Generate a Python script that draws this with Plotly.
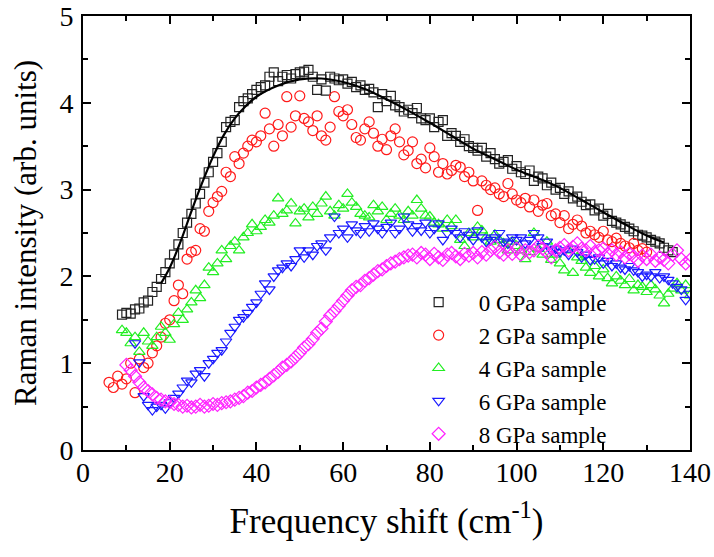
import plotly.graph_objects as go

# ---------------- data ----------------
x0 = list(range(9, 137))
y0 = [1.56, 1.58, 1.57, 1.62, 1.63, 1.70, 1.72, 1.82, 1.88, 1.97, 2.05, 2.15, 2.25, 2.37, 2.50, 2.62, 2.72, 2.84, 2.95, 3.08,
      3.20, 3.32, 3.42, 3.55, 3.72, 3.78, 3.80, 3.95, 4.02, 4.05, 4.10, 4.15, 4.18, 4.20, 4.30, 4.35, 4.25, 4.30, 4.32, 4.28,
      4.33, 4.35, 4.36, 4.38, 4.30, 4.15, 4.27, 4.14, 4.30, 4.28, 4.26, 4.27, 4.22, 4.24, 4.18, 4.20, 4.15, 4.16, 4.12, 3.95,
      4.10, 4.02, 4.08, 3.97, 3.95, 3.90, 3.92, 3.88, 3.94, 3.82, 3.80, 3.82, 3.72, 3.78, 3.80, 3.62, 3.65, 3.62, 3.55, 3.58,
      3.50, 3.48, 3.45, 3.48, 3.38, 3.42, 3.35, 3.30, 3.32, 3.34, 3.24, 3.27, 3.20, 3.18, 3.22, 3.10, 3.15, 3.13, 3.05, 3.08,
      3.00, 3.02, 2.95, 2.98, 2.90, 2.92, 2.86, 2.82, 2.83, 2.76, 2.78, 2.70, 2.72, 2.64, 2.62, 2.60, 2.57, 2.55, 2.52, 2.48,
      2.47, 2.45, 2.42, 2.40, 2.38, 2.33, 2.30, 2.28]

x2 = list(range(6, 131))
y2 = [0.78, 0.72, 0.85, 0.76, 0.82, 1.00, 0.66, 1.05, 0.95, 1.00, 1.12, 1.20, 1.30, 1.46, 1.50, 1.72, 1.90, 1.80, 2.20, 2.28,
      2.30, 2.55, 2.52, 2.75, 2.85, 2.92, 2.98, 3.20, 3.15, 3.38, 3.30, 3.42, 3.50, 3.57, 3.55, 3.62, 3.88, 3.70, 3.50, 3.75,
      3.62, 4.07, 3.72, 3.85, 4.08, 3.82, 3.78, 3.68, 3.85, 3.62, 3.57, 3.72, 4.07, 3.90, 3.85, 3.92, 3.75, 3.60, 3.57, 3.70,
      3.78, 3.65, 3.50, 3.58, 3.46, 3.62, 3.70, 3.55, 3.40, 3.45, 3.55, 3.30, 3.35, 3.25, 3.48, 3.38, 3.20, 3.30, 3.18, 3.22,
      3.28, 3.26, 3.15, 3.20, 3.10, 2.76, 3.10, 3.05, 3.00, 3.02, 2.95, 2.92, 3.07, 2.95, 2.88, 2.85, 2.90, 2.80, 2.88, 2.75,
      2.82, 2.84, 2.70, 2.72, 2.62, 2.70, 2.55, 2.60, 2.65, 2.58, 2.50, 2.52, 2.48, 2.45, 2.52, 2.42, 2.40, 2.44, 2.38, 2.35,
      2.33, 2.38, 2.30, 2.32, 2.28]

x4 = list(range(9, 141))
y4 = [1.38, 1.35, 1.23, 1.30, 1.13, 1.35, 1.25, 1.20, 1.30, 1.42, 1.35, 1.27, 1.45, 1.58, 1.50, 1.62, 1.70, 1.84, 1.75, 1.90,
      2.10, 2.05, 2.15, 2.30, 2.20, 2.35, 2.40, 2.30, 2.45, 2.50, 2.60, 2.52, 2.57, 2.65, 2.62, 2.70, 2.90, 2.72, 2.76, 2.84,
      2.61, 2.75, 2.78, 2.68, 2.80, 2.72, 2.84, 2.92, 2.75, 2.70, 2.82, 2.78, 2.95, 2.85, 2.80, 2.72, 2.70, 2.68, 2.82, 2.75,
      2.80, 2.65, 2.72, 2.78, 2.70, 2.65, 2.75, 2.70, 2.88, 2.78, 2.70, 2.69, 2.62, 2.60, 2.55, 2.65, 2.58, 2.65, 2.42, 2.35,
      2.50, 2.45, 2.57, 2.53, 2.45, 2.40, 2.48, 2.42, 2.38, 2.30, 2.40, 2.35, 2.30, 2.20, 2.28, 2.50, 2.32, 2.25, 2.40, 2.19,
      2.25, 2.15, 2.07, 2.30, 2.04, 2.22, 2.18, 2.10, 2.04, 2.12, 2.00, 2.08, 1.98, 1.92, 2.00, 1.95, 1.90, 1.97, 1.84, 1.90,
      1.88, 1.82, 1.90, 1.85, 1.78, 1.69, 1.80, 1.86, 1.92, 1.84, 1.90, 1.78]

x6 = list(range(12, 141))
y6 = [1.23, 1.01, 0.62, 0.52, 0.46, 0.50, 0.52, 0.48, 0.55, 0.60, 0.65, 0.72, 0.80, 0.78, 0.88, 0.92, 0.85, 1.00, 1.05, 1.12,
      1.15, 1.25, 1.35, 1.42, 1.50, 1.53, 1.58, 1.65, 1.70, 1.80, 1.92, 1.85, 2.00, 2.07, 2.10, 2.15, 2.12, 2.20, 2.30, 2.22,
      2.30, 2.25, 2.35, 2.38, 2.30, 2.45, 2.69, 2.50, 2.55, 2.45, 2.60, 2.53, 2.50, 2.58, 2.52, 2.61, 2.55, 2.50, 2.57, 2.62,
      2.50, 2.55, 2.69, 2.60, 2.52, 2.58, 2.53, 2.62, 2.50, 2.55, 2.61, 2.42, 2.50, 2.55, 2.50, 2.45, 2.52, 2.48, 2.42, 2.53,
      2.45, 2.40, 2.42, 2.45, 2.50, 2.40, 2.38, 2.45, 2.42, 2.45, 2.38, 2.42, 2.50, 2.45, 2.35, 2.40, 2.30, 2.32, 2.28, 2.30,
      2.25, 2.32, 2.28, 2.22, 2.25, 2.19, 2.20, 2.22, 2.15, 2.18, 2.12, 2.15, 2.10, 2.08, 2.12, 2.07, 2.05, 2.00, 2.02, 2.00,
      2.05, 1.98, 2.00, 1.96, 1.92, 1.88, 1.85, 1.73, 1.80]

x8 = list(range(10, 141))
y8 = [0.98, 0.92, 0.85, 0.78, 0.72, 0.68, 0.64, 0.60, 0.58, 0.56, 0.55, 0.53, 0.52, 0.50, 0.51, 0.49, 0.50, 0.52, 0.50, 0.51,
      0.53, 0.52, 0.54, 0.55, 0.56, 0.58, 0.60, 0.62, 0.66, 0.68, 0.72, 0.75, 0.78, 0.82, 0.86, 0.90, 0.95, 0.98, 1.02, 1.07,
      1.12, 1.18, 1.22, 1.28, 1.35, 1.40, 1.48, 1.55, 1.60, 1.66, 1.72, 1.78, 1.84, 1.88, 1.90, 1.95, 1.98, 2.02, 2.06, 2.08,
      2.12, 2.15, 2.17, 2.20, 2.22, 2.24, 2.25, 2.22, 2.27, 2.25, 2.20, 2.26, 2.22, 2.19, 2.25, 2.27, 2.23, 2.20, 2.26, 2.24,
      2.27, 2.22, 2.28, 2.25, 2.30, 2.34, 2.28, 2.25, 2.30, 2.26, 2.32, 2.25, 2.30, 2.28, 2.30, 2.35, 2.32, 2.28, 2.22, 2.30,
      2.33, 2.36, 2.30, 2.34, 2.38, 2.32, 2.30, 2.35, 2.28, 2.30, 2.32, 2.26, 2.30, 2.25, 2.28, 2.22, 2.26, 2.23, 2.18, 2.24,
      2.20, 2.25, 2.18, 2.22, 2.19, 2.15, 2.25, 2.30, 2.20, 2.15, 2.19]

fit_x = [18, 20, 22.5, 25, 27.5, 30, 32.5, 35, 37.5, 40, 45, 50, 55, 60, 65, 70, 75, 80, 85, 90,
         95, 100, 105, 110, 115, 120, 125, 130, 134]
fit_y = [1.92, 2.10, 2.40, 2.75, 3.08, 3.38, 3.63, 3.82, 3.96, 4.07, 4.20, 4.27, 4.28, 4.24, 4.16, 4.04, 3.91, 3.77, 3.62, 3.47,
         3.35, 3.23, 3.13, 3.02, 2.88, 2.74, 2.60, 2.47, 2.39]

names = ["0 GPa sample", "2 GPa sample", "4 GPa sample", "6 GPa sample", "8 GPa sample"]
colors = ["#222222", "#ff1a1a", "#22ee22", "#1a1aff", "#ff22ff"]
symbols = ["square-open", "circle-open", "triangle-up-open", "triangle-down-open", "diamond-open"]
sizes = [9, 10, 10, 10, 10]

FONT = "Liberation Serif"

fig = go.Figure()
series = [(x0, y0), (x2, y2), (x4, y4), (x6, y6), (x8, y8)]
for i, (xs, ys) in enumerate(series):
    fig.add_trace(go.Scatter(
        x=xs, y=ys, mode="markers", name=names[i],
        marker=dict(symbol=symbols[i], size=sizes[i], color=colors[i],
                    line=dict(width=1.2, color=colors[i])),
    ))
    if i == 0:
        fig.add_trace(go.Scatter(
            x=fit_x, y=fit_y, mode="lines", showlegend=False,
            line=dict(color="#000000", width=2.2, shape="spline"),
        ))

axis_common = dict(
    showline=True, linecolor="black", linewidth=2, mirror="ticks",
    ticks="inside", tickcolor="black", tickwidth=2, ticklen=8,
    showgrid=False, zeroline=False,
    tickfont=dict(family=FONT, size=28, color="black"),
)

fig.update_xaxes(
    range=[0, 140], dtick=20, tick0=0,
    minor=dict(ticks="inside", dtick=10, ticklen=5, tickwidth=2, tickcolor="black"),
    title=dict(text="Frequency shift (cm<sup>-1</sup>)", font=dict(family=FONT, size=35, color="black"), standoff=22),
    ticklabelstandoff=-4,
    **axis_common,
)
fig.update_yaxes(
    range=[0, 5], dtick=1, tick0=0,
    minor=dict(ticks="inside", dtick=0.5, ticklen=5, tickwidth=2, tickcolor="black"),
    title=dict(text="Raman intensity (arb. units)", font=dict(family=FONT, size=31, color="black"), standoff=14),
    ticklabelstandoff=2,
    **axis_common,
)

fig.update_layout(
    width=714, height=557,
    margin=dict(l=83, r=24, t=16, b=107, autoexpand=False),
    plot_bgcolor="white", paper_bgcolor="white",
    legend=dict(x=0.52, y=0.39, xanchor="left", yanchor="top",
                bgcolor="rgba(0,0,0,0)", borderwidth=0,
                font=dict(family=FONT, size=23, color="black"),
                itemwidth=70, tracegroupgap=0),
    showlegend=True,
)

fig.write_html("out.html")
